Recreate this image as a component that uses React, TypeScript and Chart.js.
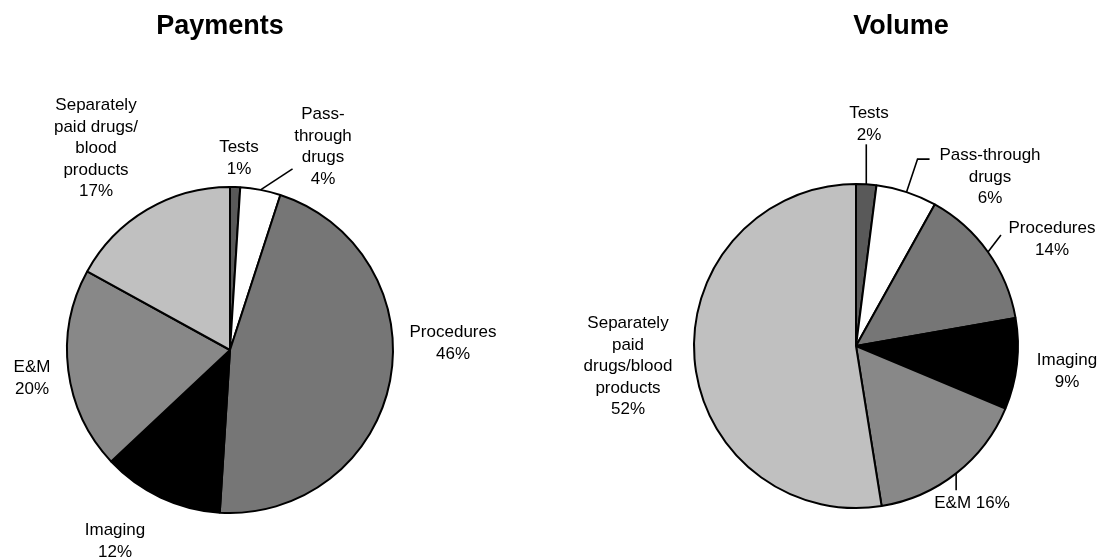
import React, { useEffect, useRef } from "react";
import { Chart, registerables } from "chart.js";

Chart.register(...registerables);

// ---------- DATA ----------
const categories = [
  "Tests",
  "Pass-through drugs",
  "Procedures",
  "Imaging",
  "E&M",
  "Separately paid drugs/blood products",
];
const paymentsShares = [1, 4, 46, 12, 20, 17];
const volumeShares = [2, 6, 14, 9, 16, 52];

const paymentsTitle = "Payments";
const volumeTitle = "Volume";

// how each category name is broken into lines on each pie
const paymentsNameLines = [
  ["Tests"],
  ["Pass-", "through", "drugs"],
  ["Procedures"],
  ["Imaging"],
  ["E&M"],
  ["Separately", "paid drugs/", "blood", "products"],
];
const volumeNameLines = [
  ["Tests"],
  ["Pass-through", "drugs"],
  ["Procedures"],
  ["Imaging"],
  ["E&M"],
  ["Separately", "paid", "drugs/blood", "products"],
];

// ---------- STYLE / LAYOUT ----------
const sliceColors = ["#595959", "#ffffff", "#767676", "#000000", "#888888", "#c0c0c0"];
const FONT = "Arial, 'Liberation Sans', sans-serif";
const LABEL_SIZE = 17;
const LINE_H = 21.5;
const BORDER_W = 2;

type LabelLayout = { dx: number; dy: number; leader?: number[][]; inline?: boolean };

const paymentsLayout: LabelLayout[] = [
  { dx: 9, dy: -198 },
  { dx: 93, dy: -231, leader: [[32, -21]] },
  { dx: 223, dy: -13 },
  { dx: -115, dy: 185 },
  { dx: -198, dy: 22 },
  { dx: -134, dy: -240 },
];
const volumeLayout: LabelLayout[] = [
  { dx: 13, dy: -228, leader: [[0, -40]] },
  { dx: 134, dy: -186, leader: [[11, -33], [23, -33]] },
  { dx: 196, dy: -113, leader: [[13, -17]] },
  { dx: 211, dy: 19 },
  { dx: 116, dy: 162, leader: [[0, 17]], inline: true },
  { dx: -228, dy: -18 },
];

type PieSpec = {
  left: number;
  width: number;
  cx: number;
  cy: number;
  r: number;
  title: string;
  titleX: number;
  values: number[];
  nameLines: string[][];
  layout: LabelLayout[];
};

const HEIGHT = 558;

const pies: PieSpec[] = [
  {
    left: 0,
    width: 550,
    cx: 230,
    cy: 350,
    r: 163,
    title: paymentsTitle,
    titleX: 220,
    values: paymentsShares,
    nameLines: paymentsNameLines,
    layout: paymentsLayout,
  },
  {
    left: 550,
    width: 551,
    cx: 306,
    cy: 346,
    r: 162,
    title: volumeTitle,
    titleX: 351,
    values: volumeShares,
    nameLines: volumeNameLines,
    layout: volumeLayout,
  },
];

function makeLabelPlugin(spec: PieSpec) {
  return {
    id: "pieLabels",
    afterDraw(chart: any) {
      const ctx = chart.ctx as CanvasRenderingContext2D;
      ctx.save();
      // title
      ctx.fillStyle = "#000";
      ctx.font = `bold 27px ${FONT}`;
      ctx.textAlign = "center";
      ctx.textBaseline = "alphabetic";
      ctx.fillText(spec.title, spec.titleX, 34);

      const meta = chart.getDatasetMeta(0);
      ctx.font = `${LABEL_SIZE}px ${FONT}`;
      meta.data.forEach((el: any, i: number) => {
        const p = el.getProps(["x", "y", "startAngle", "endAngle", "outerRadius"], true);
        const mid = (p.startAngle + p.endAngle) / 2;
        const ax = p.x + Math.cos(mid) * p.outerRadius;
        const ay = p.y + Math.sin(mid) * p.outerRadius;
        const lay = spec.layout[i];
        if (lay.leader) {
          ctx.beginPath();
          ctx.strokeStyle = "#000";
          ctx.lineWidth = 1.6;
          ctx.moveTo(ax, ay);
          lay.leader.forEach((pt) => ctx.lineTo(ax + pt[0], ay + pt[1]));
          ctx.stroke();
        }
        const pct = `${chart.data.datasets[0].data[i]}%`;
        const names = spec.nameLines[i];
        let lines: string[];
        if (lay.inline) {
          lines = [...names.slice(0, -1), `${names[names.length - 1]} ${pct}`];
        } else {
          lines = [...names, pct];
        }
        ctx.fillStyle = "#000";
        ctx.textAlign = "center";
        lines.forEach((t, k) => {
          ctx.fillText(t, p.x + lay.dx, p.y + lay.dy + k * LINE_H);
        });
      });
      ctx.restore();
    },
  };
}

function PieCanvas({ spec }: { spec: PieSpec }) {
  const ref = useRef<HTMLCanvasElement | null>(null);
  useEffect(() => {
    if (!ref.current) return;
    const size = 2 * spec.r + BORDER_W;
    const padLeft = spec.cx - size / 2;
    const padTop = spec.cy - size / 2;
    const chart = new Chart(ref.current, {
      type: "pie",
      data: {
        labels: categories,
        datasets: [
          {
            data: spec.values,
            backgroundColor: sliceColors,
            borderColor: "#000000",
            borderWidth: BORDER_W,
          },
        ],
      },
      options: {
        responsive: false,
        animation: false,
        devicePixelRatio: 1,
        rotation: 0,
        layout: {
          padding: {
            left: padLeft,
            top: padTop,
            right: spec.width - padLeft - size,
            bottom: HEIGHT - padTop - size,
          },
        },
        plugins: {
          legend: { display: false },
          tooltip: { enabled: false },
          title: { display: false },
        },
      },
      plugins: [makeLabelPlugin(spec)],
    });
    return () => chart.destroy();
  }, [spec]);
  return (
    <canvas
      ref={ref}
      width={spec.width}
      height={HEIGHT}
      style={{ position: "absolute", left: spec.left, top: 0, width: spec.width, height: HEIGHT }}
    />
  );
}

export default function App() {
  return (
    <div style={{ position: "absolute", left: 0, top: 0, width: 1101, height: HEIGHT, background: "#fff" }}>
      {pies.map((s) => (
        <PieCanvas key={s.title} spec={s} />
      ))}
    </div>
  );
}
